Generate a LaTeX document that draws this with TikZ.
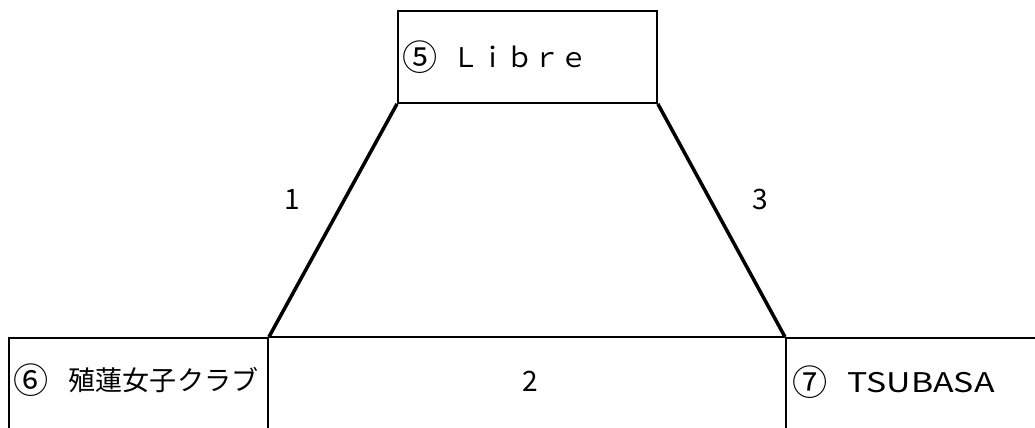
\documentclass[tikz,border=0pt]{standalone}
\usepackage{fontspec}
\usepackage{graphicx}
\setmainfont{Noto Sans CJK JP}
\newfontfamily\widefont[FakeStretch=1.25]{Noto Sans CJK JP}
\newcommand{\seedno}[1]{\raisebox{-0.12em}{\scalebox{1.3}{#1}}}
\begin{document}
\begin{tikzpicture}[
                x=0.02cm, y=-0.02cm,
                team/.style={draw, line width=1.1pt, rectangle, inner sep=0pt, anchor=north west},
                teamname/.style={anchor=west, inner sep=0pt, font=\fontsize{15.4}{18}\selectfont},
                match/.style={line width=2pt},
                matchno/.style={inner sep=0pt, font=\fontsize{16}{19}\selectfont}
            ]

            \useasboundingbox (0,0) rectangle (1035,427);
            \clip (0,0) rectangle (1035,427);

            % team boxes
            \node[team, minimum width=5.18cm, minimum height=1.84cm] (libre) at (397,10) {};
            \node[team, minimum width=5.18cm, minimum height=3cm] (renge) at (8,337) {};
            \node[team, minimum width=6cm, minimum height=3cm] (tsubasa) at (785,337) {};

            \node[teamname] (libreName) at (402,57) {\seedno{⑤}\hspace{0.55em}Ｌｉｂｒｅ};
            \node[teamname] (rengeName) at (13,380) {\seedno{⑥}\hspace{0.75em}殖蓮女子クラブ};
            \node[teamname] (tsubasaName) at (792,382) {\seedno{⑦}\hspace{0.75em}{\widefont TSUBASA}};

            % matches
            \draw[match] (libre.south west) -- (renge.north east);
            \draw[match] (libre.south east) -- (tsubasa.north west);
            \draw[line width=1.1pt] (renge.north east) -- (tsubasa.north west);

            \node[matchno] (m1) at (292,199) {1};
            \node[matchno] (m2) at (530,381) {2};
            \node[matchno] (m3) at (760,199) {3};

        \end{tikzpicture}
\end{document}
